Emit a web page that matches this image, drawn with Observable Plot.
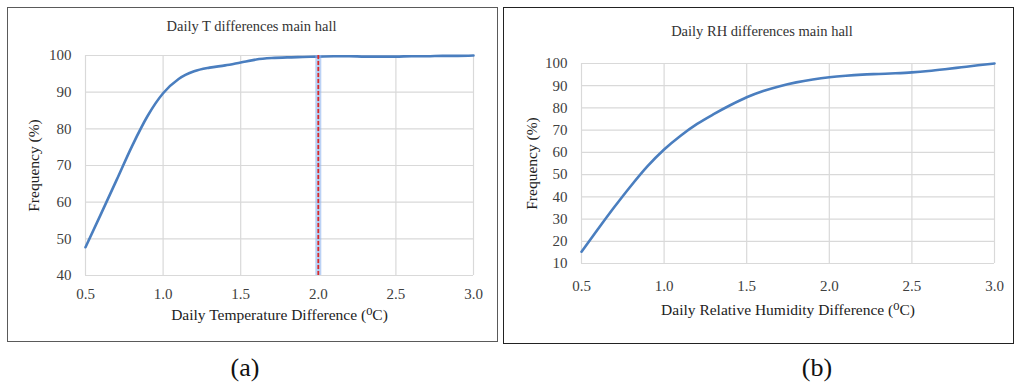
<!DOCTYPE html>
<html>
<head>
<meta charset="utf-8">
<script src="https://cdn.jsdelivr.net/npm/d3@7"></script>
<script src="https://cdn.jsdelivr.net/npm/@observablehq/plot@0.6"></script>
<style>
  html, body { margin: 0; padding: 0; background: #fff; }
  body { width: 1015px; height: 385px; position: relative; overflow: hidden; font-family: "Liberation Serif", "DejaVu Serif", serif; }
  .panel { position: absolute; box-sizing: border-box; background: #fff; }
  #panelA { left: 7px; top: 7px; width: 491px; height: 335px; border: 1.5px solid #5a5a5a; }
  #panelB { left: 503px; top: 7px; width: 511px; height: 337px; border: 1.5px solid #222; }
  .panel svg { position: absolute; left: 0; top: 0; }
  .cap { position: absolute; font-size: 26px; color: #111; transform: translate(-50%, -50%); white-space: nowrap; }
</style>
</head>
<body>
<div class="panel" id="panelA"></div>
<div class="panel" id="panelB"></div>
<div class="cap" style="left:245px; top:368px;">(a)</div>
<div class="cap" style="left:817px; top:368px;">(b)</div>
<script>
// Shared x ticks (daily difference)
const diffTicks = [0.5, 1.0, 1.5, 2.0, 2.5, 3.0];

// Panel (a): cumulative frequency of daily temperature differences
const tempDiff = [0.5, 0.6, 0.7, 0.8, 0.9, 1.0, 1.1, 1.2, 1.3, 1.4, 1.5, 1.6, 1.7, 1.8, 1.9, 2.0, 2.1, 2.2, 2.3, 2.4, 2.5, 2.6, 2.7, 2.8, 2.9, 3.0];
const tempFreq = [47.7, 56.8, 66.0, 75.3, 83.5, 89.7, 93.6, 95.7, 96.7, 97.3, 98.1, 98.9, 99.3, 99.5, 99.6, 99.7, 99.8, 99.8, 99.7, 99.7, 99.7, 99.8, 99.8, 99.9, 99.9, 100];
const tempTicks = [40, 50, 60, 70, 80, 90, 100];
const tempMarker = [2.0];

// Panel (b): cumulative frequency of daily relative humidity differences
const rhDiff = [0.5, 0.6, 0.7, 0.8, 0.9, 1.0, 1.1, 1.2, 1.3, 1.4, 1.5, 1.6, 1.7, 1.8, 1.9, 2.0, 2.1, 2.2, 2.3, 2.4, 2.5, 2.6, 2.7, 2.8, 2.9, 3.0];
const rhFreq = [15.3, 25.5, 35.5, 45.0, 53.8, 61.3, 67.5, 72.8, 77.2, 81.2, 84.8, 87.6, 89.8, 91.5, 92.8, 93.8, 94.5, 95.0, 95.3, 95.6, 96.0, 96.6, 97.4, 98.3, 99.2, 100];
const rhTicks = [10, 20, 30, 40, 50, 60, 70, 80, 90, 100];

const serif = "Liberation Serif, DejaVu Serif, serif";
const lineColor = "#4a7ebf";
const gridColor = "#d9d9d9";
const tickColor = "#404040";

function panel({xs, ys, yTicks, width, height, margins, title, titleDx, titleDy, xLabel, xTickPad, xLabelDy, yLabelDx, marker}) {
  const data = xs.map((x, i) => ({x, y: ys[i]}));
  const marks = [
    Plot.gridX(diffTicks, {stroke: gridColor, strokeOpacity: 1, strokeWidth: 1.2}),
    Plot.gridY(yTicks, {stroke: gridColor, strokeOpacity: 1, strokeWidth: 1.2}),
    Plot.axisX(diffTicks, {tickSize: 0, tickPadding: xTickPad, tickFormat: d3.format(".1f"), fontSize: 15, fontFamily: serif, fill: tickColor, label: null}),
    Plot.axisY(yTicks, {tickSize: 0, tickPadding: 14, fontSize: 15, fontFamily: serif, fill: tickColor, label: null}),
    Plot.line(data, {x: "x", y: "y", stroke: lineColor, strokeWidth: 2.6, curve: "monotone-x"})
  ];
  if (marker) {
    marks.push(
      Plot.ruleX(marker, {stroke: "#8fb4ee", strokeWidth: 6, strokeOpacity: 0.6}),
      Plot.ruleX(marker, {stroke: "#d92b2b", strokeWidth: 1.8, strokeDasharray: "4,2"})
    );
  }
  marks.push(
    Plot.text([title], {frameAnchor: "top", dx: titleDx, dy: titleDy, lineAnchor: "middle", fontSize: 14.5, fontFamily: serif, fill: "#333"}),
    Plot.text([xLabel], {frameAnchor: "bottom", dy: xLabelDy, lineAnchor: "middle", fontSize: 15.5, fontFamily: serif, fill: "#222"}),
    Plot.text(["Frequency (%)"], {frameAnchor: "left", dx: yLabelDx, rotate: -90, lineAnchor: "middle", textAnchor: "middle", fontSize: 15.5, fontFamily: serif, fill: "#222"})
  );
  return Plot.plot({
    width, height,
    marginLeft: margins[0], marginRight: margins[1], marginTop: margins[2], marginBottom: margins[3],
    style: {background: "transparent", overflow: "visible", fontFamily: serif},
    x: {type: "linear", domain: [0.5, 3.0]},
    y: {type: "linear", domain: [yTicks[0], yTicks[yTicks.length - 1]]},
    marks
  });
}

document.getElementById("panelA").append(panel({
  xs: tempDiff, ys: tempFreq, yTicks: tempTicks,
  width: 488, height: 332, margins: [77, 23, 47, 65],
  title: "Daily T differences main hall", titleDx: -28, titleDy: -29,
  xLabel: "Daily Temperature Difference (\u2070C)", xTickPad: 12.5, xLabelDy: 40, yLabelDx: -51,
  marker: tempMarker
}));

document.getElementById("panelB").append(panel({
  xs: rhDiff, ys: rhFreq, yTicks: rhTicks,
  width: 508, height: 334, margins: [77, 18, 55, 79],
  title: "Daily RH differences main hall", titleDx: -26, titleDy: -32,
  xLabel: "Daily Relative Humidity Difference (\u2070C)", xTickPad: 16.5, xLabelDy: 47, yLabelDx: -49,
  marker: null
}));
</script>
</body>
</html>
